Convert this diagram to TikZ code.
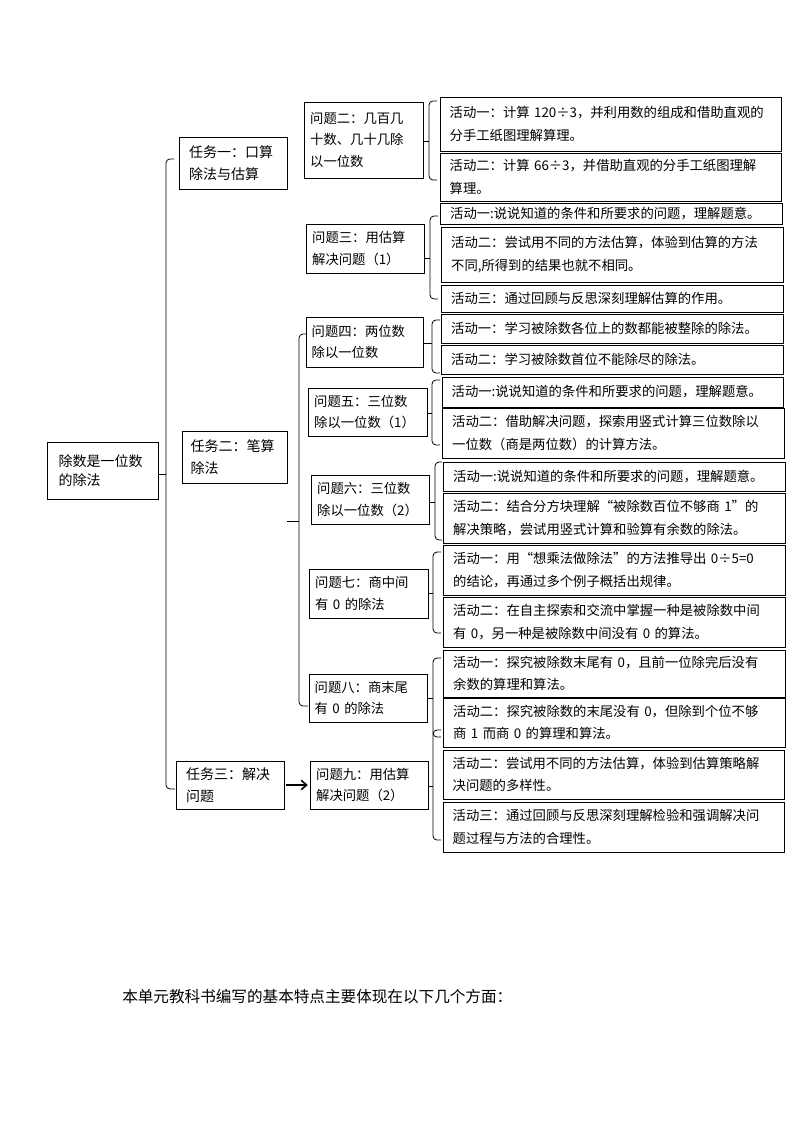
\documentclass[tikz,border=0pt]{standalone}
\usepackage{fontspec}
\setmainfont{Noto Sans CJK SC}
\usetikzlibrary{arrows.meta}

\tikzstyle{rootbox} = [rectangle, draw, line width=.6pt, text width=66pt, align=left,
    inner xsep=6pt, font=\fontsize{10.5pt}{14.5pt}\selectfont]
\tikzstyle{taskbox} = [rectangle, draw, line width=.6pt, text width=66pt, align=left,
    inner xsep=6pt, font=\fontsize{10.5pt}{16pt}\selectfont]
\tikzstyle{qbox} = [rectangle, draw, line width=.6pt, text width=80pt, align=left,
    inner xsep=4pt, font=\fontsize{10pt}{16pt}\selectfont]
\tikzstyle{actbox} = [rectangle, draw, line width=.6pt, text width=242pt, align=left,
    inner xsep=6pt, inner ysep=1pt, minimum width=256pt, font=\fontsize{10pt}{17pt}\selectfont]
\tikzstyle{brk} = [draw, line width=.6pt, rounded corners=3pt]
\tikzstyle{tick} = [draw, line width=.6pt]
\tikzstyle{arr} = [draw, line width=1.2pt, -{Straight Barb[length=4pt,width=7pt]}, shorten <=1pt, shorten >=2pt]

\begin{document}
\begin{tikzpicture}[x=0.75pt, y=-0.75pt]
	\useasboundingbox (0,0) rectangle (794,1123);
	%
	\node [rootbox, minimum width=83.25pt, minimum height=42.75pt] (root) at (102.5,470.5) {除数是一位数\\的除法};
	%
	\node [taskbox, minimum width=81pt, minimum height=39pt] (t1) at (233,163) {任务一：口算\\除法与估算};
	\node [taskbox, minimum width=78.75pt, minimum height=39pt] (t2) at (234.5,457) {任务二：笔算\\除法};
	\node [taskbox, minimum width=81pt, minimum height=36pt] (t3) at (230,785) {任务三：解决\\问题};
	%
	\node [qbox, minimum width=89.25pt, minimum height=57pt] (q2) at (363.5,140) {问题二：几百几\\十数、几十几除\\以一位数};
	\node [qbox, minimum width=87.75pt, minimum height=36.75pt] (q3) at (365.5,248.5) {问题三：用估算\\解决问题（1）};
	\node [qbox, minimum width=87pt, minimum height=37.5pt] (q4) at (365,342) {问题四：两位数\\除以一位数};
	\node [qbox, minimum width=89.25pt, minimum height=36pt] (q5) at (367.5,412) {问题五：三位数\\除以一位数（1）};
	\node [qbox, minimum width=87.75pt, minimum height=36.75pt] (q6) at (370.5,499.5) {问题六：三位数\\除以一位数（2）};
	\node [qbox, minimum width=89.25pt, minimum height=36.75pt] (q7) at (368.5,593.5) {问题七：商中间\\有 0 的除法};
	\node [qbox, minimum width=88.5pt, minimum height=36pt] (q8) at (368,698) {问题八：商末尾\\有 0 的除法};
	\node [qbox, minimum width=87.75pt, minimum height=36pt] (q9) at (369.5,785) {问题九：用估算\\解决问题（2）};
	%
	\node [actbox, minimum height=40.5pt] (a21) at (611,124) {活动一：计算 120÷3，并利用数的组成和借助直观的\\分手工纸图理解算理。};
	\node [actbox, minimum height=36pt] (a22) at (611,177) {活动二：计算 66÷3，并借助直观的分手工纸图理解\\算理。};
	%
	\node [actbox, minimum height=15.75pt] (a31) at (611.5,213.5) {活动一:说说知道的条件和所要求的问题，理解题意。};
	\node [actbox, minimum height=41.25pt] (a32) at (612.5,254.5) {活动二：尝试用不同的方法估算，体验到估算的方法\\不同,所得到的结果也就不相同。};
	\node [actbox, minimum height=20.25pt] (a33) at (612.5,298.5) {活动三：通过回顾与反思深刻理解估算的作用。};
	%
	\node [actbox, minimum height=21.75pt] (a41) at (612.5,328.5) {活动一：学习被除数各位上的数都能被整除的除法。};
	\node [actbox, minimum height=21.75pt] (a42) at (612.5,359.5) {活动二：学习被除数首位不能除尽的除法。};
	%
	\node [actbox, minimum height=22.5pt] (a51) at (613,392) {活动一:说说知道的条件和所要求的问题，理解题意。};
	\node [actbox, minimum height=37.5pt] (a52) at (613.5,433) {活动二：借助解决问题，探索用竖式计算三位数除以\\一位数（商是两位数）的计算方法。};
	%
	\node [actbox, minimum height=21.75pt] (a61) at (614.5,476.5) {活动一:说说知道的条件和所要求的问题，理解题意。};
	\node [actbox, minimum height=37.5pt] (a62) at (614.5,518) {活动二：结合分方块理解“被除数百位不够商 1”的\\解决策略，尝试用竖式计算和验算有余数的除法。};
	%
	\node [actbox, minimum height=37.5pt] (a71) at (614.5,570) {活动一：用“想乘法做除法”的方法推导出 0÷5=0\\的结论，再通过多个例子概括出规律。};
	\node [actbox, minimum height=37.5pt] (a72) at (614.5,622) {活动二：在自主探索和交流中掌握一种是被除数中间\\有 0，另一种是被除数中间没有 0 的算法。};
	%
	\node [actbox, minimum height=35.25pt] (a81) at (614.5,673.5) {活动一：探究被除数末尾有 0，且前一位除完后没有\\余数的算理和算法。};
	\node [actbox, minimum height=36.75pt] (a82) at (614.5,722.5) {活动二：探究被除数的末尾没有 0，但除到个位不够\\商 1 而商 0 的算理和算法。};
	%
	\node [actbox, minimum height=36.75pt] (a91) at (614,774.5) {活动二：尝试用不同的方法估算，体验到估算策略解\\决问题的多样性。};
	\node [actbox, minimum height=37.5pt] (a92) at (614,827) {活动三：通过回顾与反思深刻理解检验和强调解决问\\题过程与方法的合理性。};
	%
	\node [anchor=west, inner sep=0pt, font=\fontsize{11.7pt}{14pt}\selectfont] (intro) at (122,997) {本单元教科书编写的基本特点主要体现在以下几个方面：};
	%
	% brackets
	\draw [brk] (174,159) -- (166,159) -- (166,789) -- (175,789);
	\draw [tick] (root.east |- 0,474) -- (166,474);
	\draw [brk] (307,334) -- (299,334) -- (299,706) -- (308,706);
	\draw [tick] (t2.east |- 0,521) -- (299,521);
	%
	\draw [brk] (437,101) -- (429,101) -- (429,180) -- (437,180);
	\draw [tick] (q2.east |- 0,141) -- (429,141);
	\draw [brk] (438,216) -- (430,216) -- (430,299) -- (438,299);
	\draw [tick] (q3.east |- 0,258) -- (430,258);
	\draw [brk] (440,320) -- (432,320) -- (432,373) -- (440,373);
	\draw [tick] (q4.east |- 0,343) -- (432,343);
	\draw [brk] (440,380) -- (432,380) -- (432,445) -- (440,445);
	\draw [tick] (q5.east |- 0,413) -- (432,413);
	\draw [brk] (442,462) -- (435,462) -- (435,540) -- (442,540);
	\draw [tick] (q6.east |- 0,502) -- (435,502);
	\draw [brk] (441,552) -- (433,552) -- (433,633) -- (441,633);
	\draw [tick] (q7.east |- 0,593) -- (433,593);
	\draw [brk] (441,658) -- (433,658) -- (433,737) -- (441,737);
	\draw [tick] (q8.east |- 0,698) -- (433,698);
	\draw [brk] (441,730) -- (433,730) -- (433,840) -- (441,840);
	\draw [tick] (q9.east |- 0,786) -- (433,786);
	%
	\draw [arr] (t3.east) -- (q9.west);
\end{tikzpicture}
\end{document}
